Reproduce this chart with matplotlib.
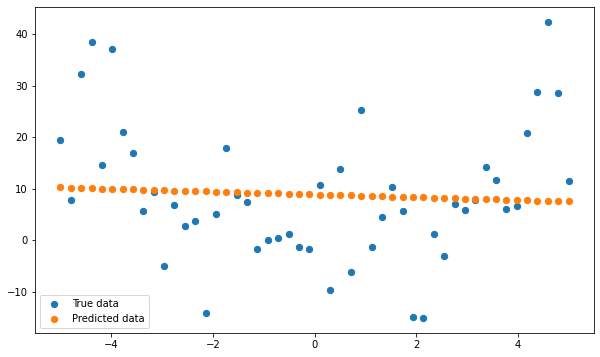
import matplotlib
matplotlib.use("Agg")
import matplotlib.pyplot as plt
import numpy as np

# 50 evenly spaced sample points on [-5, 5]
x = np.linspace(-5, 5, 50)

y_true = [19.4, 7.8, 32.3, 38.5, 14.7, 37.1, 21.1, 17.0, 5.6, 9.4,
          -5.0, 6.8, 2.7, 3.7, -14.1, 5.2, 18.0, 8.8, 7.4, -1.7,
          0.0, 0.4, 1.2, -1.2, -1.7, 10.7, -9.7, 13.9, -6.2, 25.2,
          -1.2, 4.5, 10.3, 5.6, -14.9, -15.1, 1.2, -3.1, 7.0, 5.8,
          7.9, 14.3, 11.8, 6.0, 6.6, 20.9, 28.8, 42.4, 28.5, 11.6]

# model output
y_pred = [10.26, 10.20, 10.15, 10.09, 10.04, 9.98, 9.93, 9.87, 9.82, 9.76,
          9.71, 9.65, 9.60, 9.54, 9.49, 9.43, 9.38, 9.32, 9.26, 9.21,
          9.15, 9.10, 9.04, 8.99, 8.93, 8.88, 8.82, 8.77, 8.71, 8.66,
          8.60, 8.55, 8.49, 8.43, 8.38, 8.32, 8.27, 8.21, 8.16, 8.10,
          8.05, 7.99, 7.94, 7.88, 7.83, 7.77, 7.72, 7.66, 7.61, 7.55]

fig = plt.figure(figsize=(600 / 72, 357 / 72), dpi=72)
ax = fig.add_axes([35 / 600, 1 - 333 / 357, 559 / 600, 326 / 357])

ax.plot(x, y_true, 'o', markersize=6.3, label='True data')
ax.plot(x, y_pred, 'o', markersize=6.3, label='Predicted data')
ax.legend(loc='lower left')

fig.savefig('out.png', dpi=72)
